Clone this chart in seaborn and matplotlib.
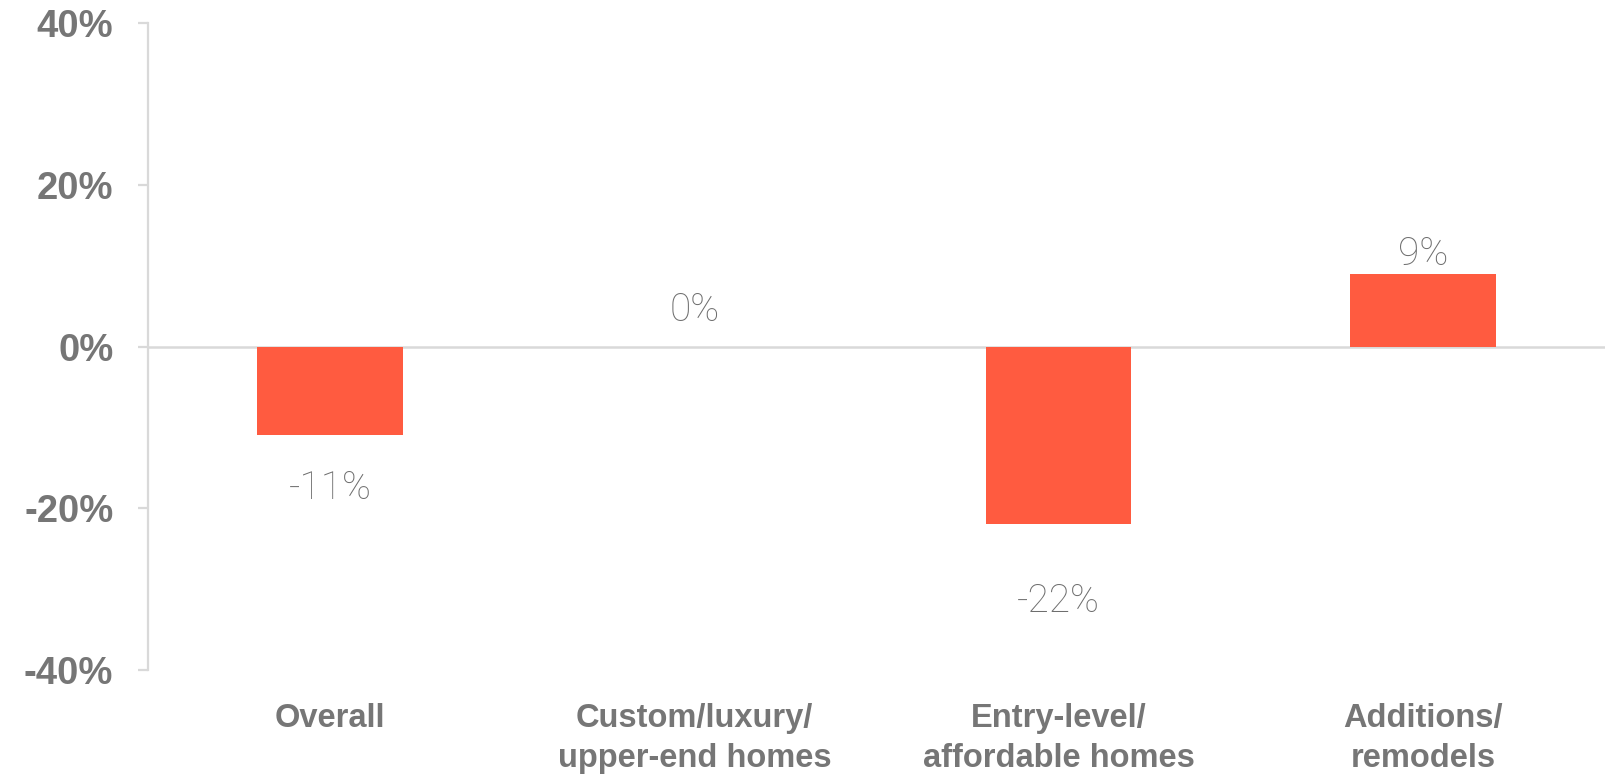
import matplotlib
matplotlib.use("Agg")
import matplotlib.pyplot as plt
import seaborn as sns
import pandas as pd

categories = ["Overall", "Custom/luxury/\nupper-end homes", "Entry-level/\naffordable homes", "Additions/\nremodels"]
values = [-11, 0, -22, 9]
value_labels = ["-11%", "0%", "-22%", "9%"]
yticks = [-40, -20, 0, 20, 40]
ytick_labels = ["-40%", "-20%", "0%", "20%", "40%"]

# label centre offsets (in data units) relative to bar end
label_offsets = [-6.5, 4.5, -9.5, 2.4]

sns.set_theme(style="white")
plt.rcParams['font.family'] = ['Liberation Sans', 'DejaVu Sans']

BAR = "#FF5B40"
GRAY = "#767676"
LINE = "#D9D9D9"

fig = plt.figure(figsize=(16.05, 7.81), dpi=100)
ax = fig.add_axes([148/1605, 1-670/781, 1-148/1605, (670-23)/781])

df = pd.DataFrame({"cat": categories, "val": values})
sns.barplot(data=df, x="cat", y="val", color=BAR, saturation=1, width=0.4,
            linewidth=0, ax=ax)

ax.set_xlim(-0.5, 3.5)
ax.set_ylim(-40, 40)
ax.set_yticks(yticks)
ax.set_yticklabels(ytick_labels)
ax.set_xlabel("")
ax.set_ylabel("")

for s in ["top", "right", "bottom"]:
    ax.spines[s].set_visible(False)
ax.spines["left"].set_color(LINE)
ax.spines["left"].set_linewidth(1.6)
ax.axhline(0, color=LINE, lw=1.8, zorder=0)

ax.tick_params(axis="y", length=7, width=1.6, color=LINE, pad=18, left=True)
ax.tick_params(axis="x", length=0, pad=24)
for t in ax.get_yticklabels():
    t.set_fontsize(27.5)
    t.set_fontweight("bold")
    t.set_color(GRAY)
for t in ax.get_xticklabels():
    t.set_fontsize(23.5)
    t.set_fontweight("bold")
    t.set_color(GRAY)
    t.set_linespacing(1.38)
    t.set_verticalalignment("top")

for i, (v, lab, off) in enumerate(zip(values, value_labels, label_offsets)):
    ax.text(i, v + off, lab, ha="center", va="center",
            fontsize=28, fontweight="light", color="#6E6E6E", family=["Roboto", "DejaVu Sans"])

fig.savefig("out.png", dpi=100)
